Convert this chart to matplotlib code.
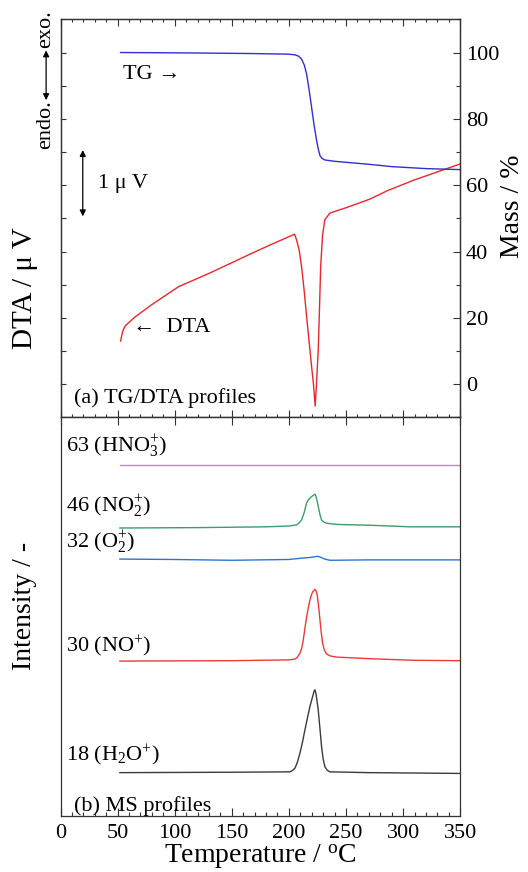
import matplotlib
matplotlib.use("Agg")
import matplotlib.pyplot as plt
from matplotlib.ticker import MultipleLocator

plt.rcParams['font.family'] = ['Liberation Serif', 'DejaVu Serif']
plt.rcParams['mathtext.fontset'] = 'custom'
plt.rcParams['mathtext.rm'] = 'Liberation Serif'
plt.rcParams['mathtext.it'] = 'Liberation Serif:italic'

# ---- TG/DTA data ----
tg_temp = [52.6, 80, 120, 166, 200, 205.3, 208.5, 211.1, 213.5, 215.5, 217.8,
           219.9, 222.0, 224.3, 226.0, 227.2, 229.0, 231.5, 240, 250, 270,
           290, 320, 350]
tg_mass = [100.0, 99.95, 99.85, 99.7, 99.5, 99.3, 98.9, 98.0, 96.2, 93.5, 88.5,
           83.4, 78.2, 73.4, 70.5, 68.9, 68.1, 67.6, 67.2, 66.9, 66.3,
           65.6, 65.0, 64.7]

dta_temp = [52.6, 54.5, 56.7, 65, 80, 103.4, 130, 153.6, 165.9, 185, 200.9,
            203.5, 205.0, 206.8, 209.0, 211.1, 213.3, 215.5, 217.7, 219.9,
            221.5, 223.0, 224.3, 225.7, 226.8, 227.8, 229.5, 231.5, 235.9,
            250, 263, 270.9, 286.6, 310, 330, 350]
dta_uv = [0.65, 0.80, 0.88, 1.01, 1.20, 1.47, 1.67, 1.86, 1.96, 2.11, 2.23,
          2.25, 2.26, 2.17, 2.02, 1.77, 1.42, 1.02, 0.64, 0.26,
          0.00, -0.33, 0.05, 0.52, 1.15, 1.77, 2.25, 2.48, 2.58,
          2.66, 2.74, 2.79, 2.92, 3.08, 3.20, 3.32]

# ---- MS data (offset intensity, a.u.) ----
hno3_temp = [52, 150, 250, 350]
hno3_int = [8.80, 8.80, 8.80, 8.80]

no2_temp = [52, 120, 180, 200, 206.8, 209, 211, 212.3, 213.5, 215.5, 217,
            219.9, 222.8, 223.6, 224.3, 225.7, 227.2, 228.6, 230.5, 233,
            241.8, 271, 306, 350]
no2_int = [7.22, 7.23, 7.25, 7.27, 7.30, 7.35, 7.42, 7.52, 7.62, 7.85, 7.93,
           8.01, 8.07, 8.03, 7.95, 7.76, 7.56, 7.42, 7.37, 7.34,
           7.31, 7.29, 7.25, 7.25]

o2_temp = [52, 100, 150, 200, 210, 218, 225.7, 229, 231.5, 236, 270, 350]
o2_int = [6.44, 6.43, 6.41, 6.43, 6.46, 6.48, 6.51, 6.47, 6.44, 6.41, 6.42, 6.42]

no_temp = [52, 150, 200, 205.3, 207.5, 209.7, 211.2, 212.6, 214, 215.5, 217,
           218.4, 219.6, 220.8, 222.8, 223.8, 224.8, 226, 227.2, 228.4, 229.5,
           231, 233, 236, 241.8, 271, 309, 350]
no_int = [3.88, 3.89, 3.91, 3.93, 3.98, 4.08, 4.20, 4.41, 4.70, 4.99, 5.22,
          5.41, 5.53, 5.62, 5.68, 5.64, 5.54, 5.26, 4.91, 4.58, 4.33,
          4.16, 4.06, 4.01, 3.98, 3.94, 3.90, 3.89]

h2o_temp = [52, 150, 200.9, 203, 205.3, 207.5, 209.7, 212, 214, 216.2, 218.4,
            220.6, 222, 222.8, 223.8, 225.7, 227.2, 228.6, 230, 231.5, 233.5,
            236, 270, 350]
h2o_int = [1.08, 1.09, 1.10, 1.13, 1.19, 1.35, 1.57, 1.86, 2.15, 2.45, 2.74,
           2.97, 3.12, 3.16, 3.05, 2.65, 2.18, 1.73, 1.42, 1.23, 1.14,
           1.10, 1.08, 1.06]

x_ticks = [0, 50, 100, 150, 200, 250, 300, 350]

SPINE = '#333333'
TICK_FS = 16
LABEL_FS = 20
NOTE_FS = 16

fig = plt.figure(figsize=(5.28, 8.72), dpi=100)
ax1 = fig.add_axes([0.1146, 0.5214, 0.757, 0.4564])
ax2 = fig.add_axes([0.1146, 0.0646, 0.757, 0.4569])
ax1r = ax1.twinx()

# ---- (a) TG/DTA ----
ax1.plot(dta_temp, dta_uv, color='#e8262d', lw=1.0)
ax1r.plot(tg_temp, tg_mass, color='#2f2fd2', lw=1.0)

ax1.set_xlim(0, 350)
ax1.set_ylim(-0.5, 5.5)
ax1r.set_ylim(-10, 110)

ax1.xaxis.set_major_locator(MultipleLocator(50))
ax1.xaxis.set_minor_locator(MultipleLocator(10))
ax1.yaxis.set_major_locator(MultipleLocator(0.5))
ax1.tick_params(axis='x', which='both', direction='in', top=True, bottom=True,
                labelbottom=False, color=SPINE)
ax1.tick_params(axis='x', which='major', length=5, width=0.8)
ax1.tick_params(axis='x', which='minor', length=2.5, width=0.8)
ax1.tick_params(axis='y', which='major', direction='in', length=3.5, width=0.8,
                labelleft=False, color=SPINE)

ax1r.yaxis.set_minor_locator(MultipleLocator(10))
ax1r.set_yticks([0, 20, 40, 60, 80, 100])
ax1r.tick_params(axis='y', which='both', direction='in', color=SPINE,
                 labelsize=TICK_FS, pad=4)
ax1r.tick_params(axis='y', which='major', length=5, width=0.8)
ax1r.tick_params(axis='y', which='minor', length=3, width=0.8)

ax1.set_ylabel('DTA / μ V', fontsize=21)
ax1.yaxis.set_label_coords(-0.089, 0.325)
ax1.yaxis.label.set_va('center')
ax1r.set_ylabel('Mass / %', fontsize=20, rotation=90)
ax1r.yaxis.set_label_coords(1.132, 0.53)
ax1r.yaxis.label.set_va('center')

for sp in list(ax1.spines.values()) + list(ax1r.spines.values()):
    sp.set_color(SPINE)
    sp.set_linewidth(0.9)

ax1r.text(54.7, 93.4, 'TG →', fontsize=NOTE_FS, va='center', ha='left')
ax1.text(63.5, 0.855, '←  DTA', fontsize=NOTE_FS, va='center', ha='left')
ax1.text(32.5, 3.02, '1 μ V', fontsize=NOTE_FS, va='center', ha='left')
ax1.annotate('', xy=(19.5, 2.53), xytext=(19.5, 3.53),
             arrowprops=dict(arrowstyle='<|-|>', color='black', lw=0.9,
                             mutation_scale=9, shrinkA=0, shrinkB=0))
ax1.text(0.035, 0.048, '(a) TG/DTA profiles', transform=ax1.transAxes,
         fontsize=NOTE_FS, va='center', ha='left')

# endo./exo. direction marker
ax1.text(-0.036, 0.735, 'endo.', transform=ax1.transAxes, rotation=90,
         fontsize=NOTE_FS, ha='center', va='center', clip_on=False)
ax1.text(-0.036, 0.975, 'exo.', transform=ax1.transAxes, rotation=90,
         fontsize=NOTE_FS, ha='center', va='center', clip_on=False)
ax1.annotate('', xy=(-0.036, 0.922), xytext=(-0.036, 0.797),
             xycoords='axes fraction', textcoords='axes fraction',
             arrowprops=dict(arrowstyle='<|-|>', color='black', lw=0.9,
                             mutation_scale=9, shrinkA=0, shrinkB=0),
             annotation_clip=False)

# ---- (b) MS ----
ax2.plot(hno3_temp, hno3_int, color='#b58bd6', lw=1.0)
ax2.plot(no2_temp, no2_int, color='#3c9c6c', lw=1.0)
ax2.plot(o2_temp, o2_int, color='#2f72d2', lw=1.0)
ax2.plot(no_temp, no_int, color='#ea3a3a', lw=1.0)
ax2.plot(h2o_temp, h2o_int, color='#3a3a3a', lw=1.0)

ax2.set_xlim(0, 350)
ax2.set_ylim(0, 10)
ax2.set_xticks(x_ticks)
ax2.xaxis.set_minor_locator(MultipleLocator(10))
ax2.tick_params(axis='x', which='both', direction='in', bottom=True,
                labelsize=TICK_FS, pad=6, color=SPINE)
ax2.tick_params(axis='x', which='major', length=5.5, width=0.8, top=True)
ax2.tick_params(axis='x', which='minor', length=3, width=0.8, top=False)
ax2.tick_params(axis='y', left=False, right=False, labelleft=False)
ax2.set_xlabel('Temperature / $^{\\mathrm{o}}$C', fontsize=LABEL_FS, labelpad=0)
ax2.set_ylabel('Intensity / -', fontsize=LABEL_FS)
ax2.yaxis.set_label_coords(-0.089, 0.526)
ax2.yaxis.label.set_va('center')
for sp in ax2.spines.values():
    sp.set_color(SPINE)
    sp.set_linewidth(0.9)

ms_labels = ['63 (HNO$_3^{+}$)', '46 (NO$_2^{+}$)', '32 (O$_2^{+}$)',
             '30 (NO$^{+}$)', '18 (H$_2$O$^{+}$)']
ms_label_y = [9.29, 7.79, 6.88, 4.25, 1.50]
for lab, yy in zip(ms_labels, ms_label_y):
    ax2.text(4.5, yy, lab, fontsize=NOTE_FS, va='center', ha='left')
ax2.text(0.035, 0.025, '(b) MS profiles', transform=ax2.transAxes,
         fontsize=NOTE_FS, va='center', ha='left')

fig.savefig('out.png', dpi=100)
